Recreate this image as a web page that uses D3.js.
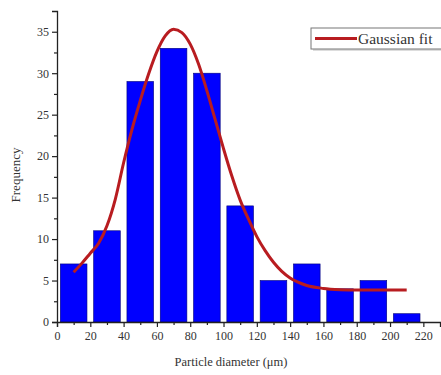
<!DOCTYPE html>
<html>
<head>
<meta charset="utf-8">
<script src="https://cdn.jsdelivr.net/npm/d3@7"></script>
<style>
  body { margin: 0; background: #fff; }
  svg text { font-family: "Liberation Serif", "DejaVu Serif", serif; fill: #333; }
</style>
</head>
<body>
<div id="chart"></div>
<script>
// histogram bins (start of each 20 um bin) and counts
const binStarts = [0, 20, 40, 60, 80, 100, 120, 140, 160, 180, 200];
const counts = [7, 11, 29, 33, 30, 14, 5, 7, 4, 5, 1];
const binWidth = 20;

// Gaussian fit curve
const fitX = [10, 15, 20, 25, 30, 35, 40, 45, 50, 55, 60, 65, 70, 75, 80, 85, 90, 95, 100,
  105, 110, 115, 120, 125, 130, 135, 140, 150, 160, 170, 180, 190, 200, 210];
const fitY = [6.0, 7.1, 8.3, 9.5, 11.6, 14.8, 19.2, 23.2, 26.7, 29.9, 32.6, 34.5, 35.3, 34.9,
  33.5, 31.1, 27.9, 24.4, 20.9, 17.6, 14.7, 12.4, 10.3, 8.6, 7.2, 6.1, 5.3, 4.4, 4.05, 3.9,
  3.85, 3.85, 3.85, 3.85];

const xTicks = [0, 20, 40, 60, 80, 100, 120, 140, 160, 180, 200, 220];
const yTicks = [0, 5, 10, 15, 20, 25, 30, 35];

const width = 441, height = 375;
const margin = { top: 11, right: 1, bottom: 53, left: 57 };

const svg = d3.select("#chart").append("svg")
  .attr("width", width)
  .attr("height", height);

const x = d3.scaleLinear().domain([0, 230]).range([margin.left, width - margin.right]);
const y = d3.scaleLinear().domain([0, 37.5]).range([height - margin.bottom, margin.top]);

// bars
svg.append("g")
  .selectAll("rect")
  .data(counts)
  .join("rect")
  .attr("x", (d, i) => x(binStarts[i] + 2))
  .attr("width", (d, i) => x(binStarts[i] + binWidth - 2) - x(binStarts[i] + 2))
  .attr("y", d => y(d))
  .attr("height", d => y(0) - y(d))
  .attr("fill", "#0000ff")
  .attr("stroke", "#00007a")
  .attr("stroke-width", 0.6);

// fit line
const fit = fitX.map((v, i) => [v, fitY[i]]);
svg.append("path")
  .datum(fit)
  .attr("fill", "none")
  .attr("stroke", "#b81c20")
  .attr("stroke-width", 3)
  .attr("d", d3.line().x(d => x(d[0])).y(d => y(d[1])).curve(d3.curveMonotoneX));

// y axis (major + minor ticks)
svg.append("g")
  .attr("transform", `translate(${margin.left},0)`)
  .call(d3.axisLeft(y).tickValues(yTicks).tickSize(5).tickPadding(3));
svg.append("g")
  .attr("transform", `translate(${margin.left},0)`)
  .call(d3.axisLeft(y).tickValues(d3.range(2.5, 37.5, 5)).tickSize(3).tickFormat(""))
  .call(g => g.select(".domain").remove());

// x axis (major + minor ticks)
svg.append("g")
  .attr("transform", `translate(0,${height - margin.bottom})`)
  .call(d3.axisBottom(x).tickValues(xTicks).tickSize(5).tickPadding(4));
svg.append("g")
  .attr("transform", `translate(0,${height - margin.bottom})`)
  .call(d3.axisBottom(x).tickValues(d3.range(10, 230, 20)).tickSize(3).tickFormat(""))
  .call(g => g.select(".domain").remove());

svg.selectAll("g").attr("font-family", "Liberation Serif, serif").attr("font-size", 12);
svg.selectAll(".domain").attr("stroke", "#222").attr("stroke-width", 1.3);
svg.selectAll(".tick line").attr("stroke", "#222").attr("stroke-width", 1.2);
svg.selectAll(".tick text").attr("fill", "#444");

// axis titles
svg.append("text")
  .attr("x", 231)
  .attr("y", 366)
  .attr("text-anchor", "middle")
  .style("font-size", "12.5px")
  .text("Particle diameter (\u03bcm)");

svg.append("text")
  .attr("transform", `translate(20,175) rotate(-90)`)
  .attr("text-anchor", "middle")
  .style("font-size", "13px")
  .text("Frequency");

// legend
const legend = svg.append("g").attr("transform", "translate(311,28)");
legend.append("rect")
  .attr("x", 2).attr("y", 2)
  .attr("width", 150).attr("height", 21)
  .attr("fill", "#ddd");
legend.append("rect")
  .attr("width", 150).attr("height", 21)
  .attr("fill", "#fff")
  .attr("stroke", "#777")
  .attr("stroke-width", 1);
legend.append("line")
  .attr("x1", 4).attr("x2", 46)
  .attr("y1", 10.5).attr("y2", 10.5)
  .attr("stroke", "#b81c20")
  .attr("stroke-width", 3);
legend.append("text")
  .attr("x", 47).attr("y", 15.5)
  .attr("font-size", 15.5)
  .text("Gaussian fit");
</script>
</body>
</html>
